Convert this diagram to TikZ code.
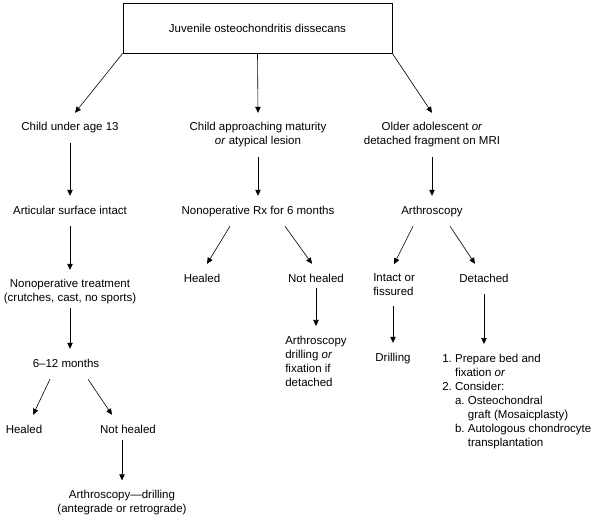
\documentclass[tikz,border=0pt]{standalone}
\usepackage{fontspec}
\setmainfont{Liberation Sans}
\usepackage{tikz}
\usetikzlibrary{arrows.meta,positioning}

\begin{document}
\begin{tikzpicture}[x=1pt,y=-1pt,>={Triangle[length=6pt,width=5.4pt]},line width=0.6pt,
    every node/.style={font=\fontsize{11.5}{14}\selectfont},
    topbox/.style={draw,minimum width=269pt,minimum height=50pt},
    lbl/.style={inner xsep=2pt,inner ysep=9.5pt,text height=8.4pt,text depth=2.4pt},
    lbls/.style={inner xsep=2pt,inner ysep=9.5pt,align=center},
    lbll/.style={inner xsep=2pt,inner ysep=9.5pt,align=left}]
  \useasboundingbox (0,0) rectangle (595,519);
  \node[topbox] (top) at (257.5,28) {Juvenile osteochondritis dissecans};
  % three groups
  \node[lbl] (c1) at (70,128) {Child under age 13};
  \node[lbls] (c2) at (258,135) {Child approaching maturity\\\emph{or} atypical lesion};
  \node[lbls] (c3) at (432,135) {Older adolescent \emph{or}\\detached fragment on MRI};
  \draw[->] (top.south west) -- ([xshift=5pt]c1.north);
  \draw[->] (top.south) -- (c2.north);
  \draw[->] (top.south east) -- (c3.north);
  % left branch
  \node[lbl] (a1) at (70,211) {Articular surface intact};
  \node[lbls] (t1) at (70,292) {Nonoperative treatment\\(crutches, cast, no sports)};
  \node[lbl] (m1) at (66,364) {6–12 months};
  \node[lbl] (h1) at (24,430) {Healed};
  \node[lbl] (nh1) at (128,430) {Not healed};
  \node[lbls] (ad) at (122,502.5) {Arthroscopy—drilling\\(antegrade or retrograde)};
  \draw[->] (c1.south) -- (a1.north);
  \draw[->] (a1.south) -- (t1.north);
  \draw[->] ([yshift=6pt]t1.south) -- (t1.south |- m1.north);
  \draw[->] ([xshift=-16pt]m1.south) -- ([xshift=9pt]h1.north);
  \draw[->] ([xshift=22pt]m1.south) -- ([xshift=-16pt]nh1.north);
  \draw[->] ([yshift=5pt]ad.north |- nh1.south) -- (ad.north);
  % middle branch
  \node[lbl] (n1) at (258,211) {Nonoperative Rx for 6 months};
  \node[lbl] (h2) at (202,279) {Healed};
  \node[lbl] (nh2) at (316,279) {Not healed};
  \node[lbll,anchor=west] (ax) at (283,361) {Arthroscopy\\drilling \emph{or}\\fixation if\\detached};
  \draw[->] (c2.south) -- (n1.north);
  \draw[->] ([xshift=-28pt]n1.south) -- ([xshift=5pt]h2.north);
  \draw[->] ([xshift=27pt]n1.south) -- ([xshift=-4pt]nh2.north);
  \draw[->] ([yshift=6pt]nh2.south) -- (nh2.south |- ax.north);
  % right branch
  \node[lbl] (ar) at (432,211) {Arthroscopy};
  \node[lbll,anchor=west] (io) at (371,285) {Intact or\\fissured};
  \node[lbl] (de) at (484,279) {Detached};
  \node[lbl] (dr) at (393,358) {Drilling};
  \node[lbll,anchor=north west] (list) at (440,344) {1.\ Prepare bed and\\
    \hspace*{12.8pt}fixation \emph{or}\\
    2.\ Consider:\\
    \hspace*{12.8pt}a.\ Osteochondral\\
    \hspace*{25.6pt}graft (Mosaicplasty)\\
    \hspace*{12.8pt}b.\ Autologous chondrocyte\\
    \hspace*{25.6pt}transplantation};
  \draw[->] (c3.south) -- (ar.north);
  \draw[->] ([xshift=-19pt]ar.south) -- (io.north);
  \draw[->] ([xshift=18pt]ar.south) -- ([xshift=-9pt]de.north);
  \draw[->] (dr.north |- io.south) -- (dr.north);
  \draw[->] (de.south) -- (de.south |- list.north);
\end{tikzpicture}
\end{document}
